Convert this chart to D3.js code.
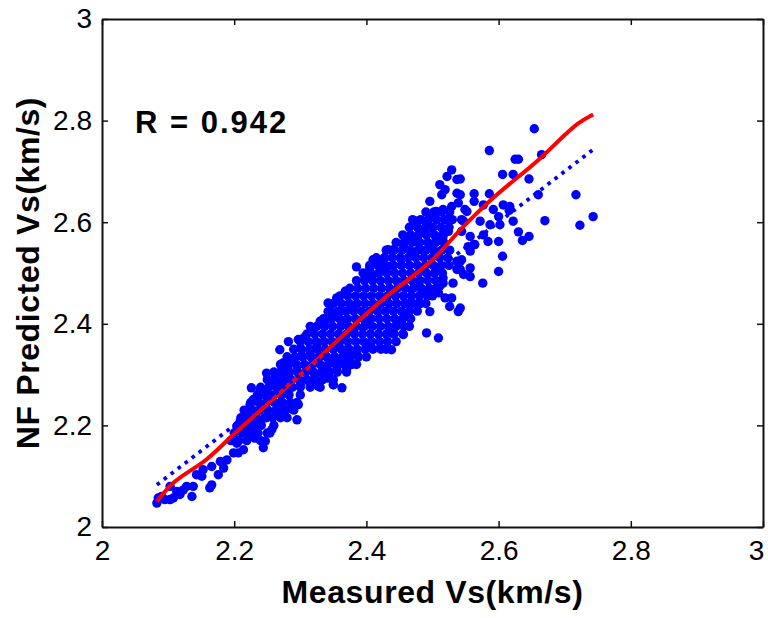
<!DOCTYPE html>
<html>
<head>
<meta charset="utf-8">
<script src="https://cdnjs.cloudflare.com/ajax/libs/d3/7.8.5/d3.min.js"></script>
<style>
  body { margin: 0; background: #fff; }
  svg text { font-family: "Liberation Sans", Arial, sans-serif; }
</style>
</head>
<body>
<div id="chart"></div>
<script>
// axis ticks
const xTicks = [2, 2.2, 2.4, 2.6, 2.8, 3];
const yTicks = [2, 2.2, 2.4, 2.6, 2.8, 3];

// scattered samples read one by one: [measured, predicted]
const tailPoints = [[2.083,2.047],[2.085,2.057],[2.095,2.054],[2.103,2.080],[2.108,2.057],[2.118,2.064],[2.123,2.073],[2.136,2.060],[2.138,2.080],[2.143,2.103],[2.153,2.113],[2.163,2.077],[2.166,2.083],[2.176,2.103],[2.166,2.119],[2.179,2.129],[2.189,2.132],[2.184,2.116],[2.151,2.100],[2.199,2.146],[2.206,2.146],[2.204,2.165],[2.214,2.152],[2.204,2.198],[2.209,2.208],[2.219,2.198],[2.224,2.178],[2.231,2.175],[2.234,2.192],[2.244,2.156],[2.247,2.169],[2.254,2.185],[2.257,2.192],[2.224,2.241],[2.229,2.251],[2.226,2.274],[2.242,2.260],[2.249,2.244],[2.257,2.280],[2.264,2.228],[2.269,2.244],[2.279,2.231],[2.295,2.211],[2.297,2.241],[2.279,2.264],[2.269,2.277],[2.249,2.215],[2.234,2.211],[2.219,2.224],[2.214,2.205],[2.128,2.080],[2.113,2.070],[2.103,2.054],[2.090,2.060]];

const midPoints = [[2.249,2.303],[2.269,2.349],[2.282,2.365],[2.274,2.323],[2.277,2.306],[2.284,2.290],[2.297,2.369],[2.300,2.352],[2.302,2.336],[2.305,2.372],[2.315,2.395],[2.317,2.385],[2.310,2.316],[2.300,2.280],[2.315,2.280],[2.327,2.277],[2.322,2.300],[2.335,2.310],[2.342,2.293],[2.350,2.280],[2.363,2.274],[2.330,2.405],[2.337,2.405],[2.342,2.441],[2.342,2.424],[2.355,2.451],[2.370,2.464],[2.385,2.512],[2.360,2.424],[2.370,2.408],[2.380,2.428],[2.355,2.362],[2.365,2.375],[2.370,2.349],[2.380,2.388],[2.375,2.329],[2.360,2.329],[2.345,2.329],[2.325,2.356],[2.330,2.336],[2.315,2.343],[2.289,2.329],[2.272,2.310],[2.262,2.297],[2.295,2.316],[2.239,2.267],[2.249,2.264],
  [2.491,2.382],[2.509,2.372],[2.496,2.424],[2.516,2.480],[2.519,2.451],[2.529,2.451],[2.539,2.424],[2.526,2.434],[2.509,2.461],[2.421,2.352],[2.438,2.349],[2.456,2.379],[2.446,2.402],[2.463,2.421],[2.479,2.441],[2.466,2.441],[2.484,2.461],[2.436,2.382],[2.405,2.362],[2.385,2.343],[2.375,2.346],[2.365,2.323],[2.355,2.310],[2.370,2.310],[2.350,2.280],[2.368,2.464],[2.355,2.421]];

const upperPoints = [[2.529,2.703],[2.522,2.690],[2.537,2.684],[2.511,2.674],[2.519,2.664],[2.514,2.654],[2.537,2.657],[2.539,2.638],[2.529,2.631],[2.496,2.641],[2.516,2.625],[2.506,2.621],[2.496,2.615],[2.552,2.621],[2.522,2.605],[2.544,2.605],[2.474,2.602],[2.491,2.602],[2.499,2.589],[2.481,2.585],[2.466,2.572],[2.524,2.582],[2.544,2.582],[2.476,2.562],[2.516,2.572],[2.456,2.552],[2.441,2.546],[2.433,2.546],[2.428,2.530],[2.418,2.523],[2.410,2.526],[2.421,2.510],[2.433,2.513],[2.405,2.510],[2.408,2.493],[2.398,2.490],[2.453,2.526],[2.469,2.539],[2.481,2.546],[2.496,2.552],[2.506,2.566],[2.537,2.523],[2.544,2.526],[2.554,2.552],[2.537,2.507],[2.547,2.497],[2.531,2.480],[2.516,2.490],[2.511,2.474]];

const outerPoints = [[2.654,2.784],[2.586,2.741],[2.625,2.724],[2.630,2.724],[2.665,2.733],[2.606,2.694],[2.622,2.694],[2.646,2.685],[2.542,2.685],[2.563,2.656],[2.586,2.656],[2.660,2.654],[2.717,2.654],[2.542,2.654],[2.563,2.641],[2.577,2.634],[2.607,2.634],[2.617,2.631],[2.616,2.623],[2.549,2.625],[2.592,2.625],[2.743,2.611],[2.670,2.603],[2.723,2.594],[2.622,2.602],[2.600,2.611],[2.602,2.595],[2.587,2.595],[2.572,2.602],[2.547,2.602],[2.630,2.581],[2.646,2.572],[2.636,2.564],[2.557,2.572],[2.577,2.575],[2.584,2.562],[2.600,2.562],[2.564,2.556],[2.557,2.543],[2.606,2.533],[2.542,2.523],[2.557,2.510],[2.557,2.493],[2.600,2.503],[2.576,2.480],[2.542,2.431],[2.542,2.507]];

// dense core, read row by row: [predicted, [measured...]]
const coreRows = [
  [2.62, [2.49, 2.502, 2.514, 2.526]],
  [2.605, [2.47, 2.482, 2.494, 2.506, 2.518, 2.53]],
  [2.59, [2.465, 2.477, 2.489, 2.501, 2.513, 2.525]],
  [2.575, [2.455, 2.467, 2.479, 2.491, 2.503, 2.515]],
  [2.56, [2.445, 2.457, 2.469, 2.481, 2.493, 2.505, 2.517]],
  [2.545, [2.43, 2.442, 2.454, 2.466, 2.478, 2.49, 2.502, 2.514, 2.526]],
  [2.53, [2.415, 2.427, 2.439, 2.451, 2.463, 2.475, 2.487, 2.499, 2.511, 2.523]],
  [2.515, [2.405, 2.417, 2.429, 2.441, 2.453, 2.465, 2.477, 2.489, 2.501, 2.513, 2.525]],
  [2.5, [2.395, 2.407, 2.419, 2.431, 2.443, 2.455, 2.467, 2.479, 2.491, 2.503, 2.515]],
  [2.485, [2.385, 2.397, 2.409, 2.421, 2.433, 2.445, 2.457, 2.469, 2.481, 2.493, 2.505]],
  [2.47, [2.375, 2.387, 2.399, 2.411, 2.423, 2.435, 2.447, 2.459, 2.471, 2.483, 2.495, 2.505]],
  [2.455, [2.36, 2.372, 2.384, 2.396, 2.408, 2.42, 2.432, 2.444, 2.456, 2.468, 2.48, 2.492, 2.5]],
  [2.44, [2.35, 2.362, 2.374, 2.386, 2.398, 2.41, 2.422, 2.434, 2.446, 2.458, 2.47, 2.482, 2.49]],
  [2.425, [2.345, 2.357, 2.369, 2.381, 2.393, 2.405, 2.417, 2.429, 2.441, 2.453, 2.465, 2.477]],
  [2.41, [2.335, 2.347, 2.359, 2.371, 2.383, 2.395, 2.407, 2.419, 2.431, 2.443, 2.455, 2.467]],
  [2.395, [2.325, 2.337, 2.349, 2.361, 2.373, 2.385, 2.397, 2.409, 2.421, 2.433, 2.445, 2.457, 2.465]],
  [2.38, [2.31, 2.322, 2.334, 2.346, 2.358, 2.37, 2.382, 2.394, 2.406, 2.418, 2.43, 2.442, 2.455]],
  [2.365, [2.3, 2.312, 2.324, 2.336, 2.348, 2.36, 2.372, 2.384, 2.396, 2.408, 2.42, 2.432, 2.445]],
  [2.35, [2.29, 2.302, 2.314, 2.326, 2.338, 2.35, 2.362, 2.374, 2.386, 2.398, 2.41, 2.422, 2.43]],
  [2.335, [2.28, 2.292, 2.304, 2.316, 2.328, 2.34, 2.352, 2.364, 2.376, 2.388, 2.4]],
  [2.32, [2.27, 2.282, 2.294, 2.306, 2.318, 2.33, 2.342, 2.354, 2.366, 2.378, 2.385]],
  [2.305, [2.26, 2.272, 2.284, 2.296, 2.308, 2.32, 2.332, 2.344, 2.356, 2.37]],
  [2.29, [2.25, 2.262, 2.274, 2.286, 2.298, 2.31, 2.322, 2.334, 2.35]],
  [2.275, [2.24, 2.252, 2.264, 2.276, 2.288, 2.3, 2.315, 2.33]],
  [2.26, [2.235, 2.247, 2.259, 2.271, 2.283, 2.3]],
  [2.245, [2.225, 2.237, 2.249, 2.261, 2.273, 2.285, 2.295]],
  [2.23, [2.215, 2.227, 2.239, 2.251, 2.263, 2.275, 2.29]],
  [2.215, [2.21, 2.222, 2.234, 2.246, 2.258, 2.27, 2.28]],
  [2.2, [2.205, 2.217, 2.229, 2.241, 2.26]],
  [2.185, [2.2, 2.212, 2.224, 2.236, 2.25]],
  [2.17, [2.195, 2.207, 2.219, 2.24]]
];

// red trend curve
const fitMeasured  = [2.083, 2.108, 2.158, 2.199, 2.259, 2.289, 2.320, 2.390, 2.425, 2.500, 2.542, 2.592, 2.658, 2.718, 2.743];
const fitPredicted = [2.050, 2.087, 2.133, 2.182, 2.252, 2.287, 2.323, 2.408, 2.448, 2.526, 2.585, 2.648, 2.720, 2.792, 2.812];

// 1:1 reference line ends
const refLine = [2.083, 2.745];

const rText = "R = 0.942";

const W = 768, H = 618;
const margin = { top: 19, right: 5, bottom: 91, left: 102 };
const width = W - margin.left - margin.right;
const height = H - margin.top - margin.bottom;

const svg = d3.select("#chart").append("svg")
    .attr("width", W)
    .attr("height", H);

const g = svg.append("g")
    .attr("transform", `translate(${margin.left},${margin.top})`);

const x = d3.scaleLinear().domain([2, 3]).range([0, width]);
const y = d3.scaleLinear().domain([2, 3]).range([height, 0]);

// flatten all samples
const points = [...tailPoints, ...midPoints, ...upperPoints, ...outerPoints];
coreRows.forEach(([p, ms]) => ms.forEach(m => points.push([m, p])));

g.append("g").selectAll("circle")
    .data(points)
    .join("circle")
    .attr("cx", d => x(d[0]))
    .attr("cy", d => y(d[1]))
    .attr("r", 4.7)
    .attr("fill", "#0000ff");

const fitLine = d3.line()
    .x(d => x(d[0]))
    .y(d => y(d[1]));

g.append("path")
    .datum(fitMeasured.map((m, i) => [m, fitPredicted[i]]))
    .attr("d", fitLine.curve(d3.curveCatmullRom))
    .attr("fill", "none")
    .attr("stroke", "#ff0000")
    .attr("stroke-width", 4)
    .attr("stroke-linejoin", "round");

g.append("path")
    .datum(refLine.map(v => [v, v]))
    .attr("d", d3.line().x(d => x(d[0])).y(d => y(d[1])))
    .attr("fill", "none")
    .attr("stroke", "#0000ff")
    .attr("stroke-width", 3.8)
    .attr("stroke-dasharray", "3.6 5.2");

// axes, ticks pointing inward on all sides
const fmt = d => String(d);

const xAxis = g.append("g")
    .attr("transform", `translate(0,${height})`)
    .call(d3.axisBottom(x).tickValues(xTicks).tickFormat(fmt)
        .tickSizeInner(-6).tickSizeOuter(0).tickPadding(13));

// keep the last label inside the figure
xAxis.selectAll(".tick text").filter(d => d === 3).attr("dx", "-7");

const yAxis = g.append("g")
    .call(d3.axisLeft(y).tickValues(yTicks).tickFormat(fmt)
        .tickSizeInner(-6).tickSizeOuter(0).tickPadding(10));

g.append("g")
    .call(d3.axisTop(x).tickValues(xTicks).tickFormat("")
        .tickSizeInner(-6).tickSizeOuter(0));

g.append("g")
    .attr("transform", `translate(${width},0)`)
    .call(d3.axisRight(y).tickValues(yTicks).tickFormat("")
        .tickSizeInner(-6).tickSizeOuter(0));

g.selectAll(".domain").attr("stroke", "#111").attr("stroke-width", 2);
g.selectAll(".tick line").attr("stroke", "#111").attr("stroke-width", 1.5);
g.selectAll(".tick text")
    .attr("fill", "#000")
    .style("font-size", "28px");

// R annotation
g.append("text")
    .attr("x", 135 - margin.left)
    .attr("y", 133 - margin.top)
    .style("font-size", "31px")
    .style("font-weight", "bold")
    .style("letter-spacing", "2px")
    .text(rText);

// axis titles
svg.append("text")
    .attr("x", margin.left + width / 2)
    .attr("y", 603)
    .attr("text-anchor", "middle")
    .style("font-size", "32px")
    .style("font-weight", "bold")
    .style("letter-spacing", "0.6px")
    .text("Measured Vs(km/s)");

svg.append("text")
    .attr("transform", `translate(39,${margin.top + height / 2}) rotate(-90)`)
    .attr("text-anchor", "middle")
    .style("font-size", "32px")
    .style("font-weight", "bold")
    .style("letter-spacing", "0.6px")
    .text("NF Predicted Vs(km/s)");
</script>
</body>
</html>
